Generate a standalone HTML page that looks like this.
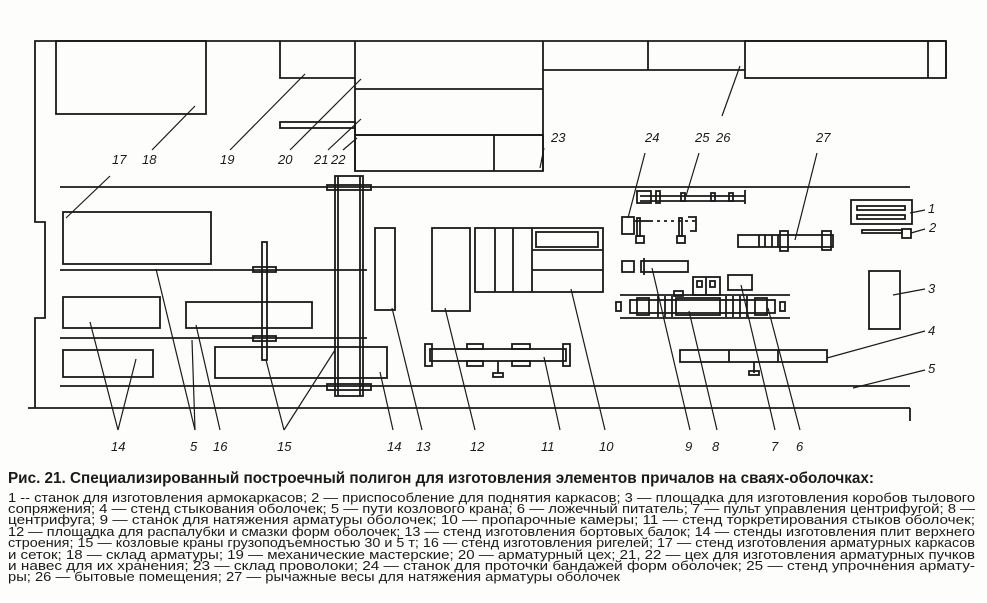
<!DOCTYPE html>
<html><head><meta charset="utf-8"><style>
html,body{margin:0;padding:0;background:#fff;}
svg{display:block}
text{font-family:"Liberation Sans","DejaVu Sans",sans-serif;fill:#1a1a1a}
.n{font-style:italic;font-size:13px}
.c{font-size:12.5px}
</style></head><body>
<svg width="987" height="603" viewBox="0 0 987 603" xmlns="http://www.w3.org/2000/svg">
<rect width="987" height="603" fill="#fdfdfb"/>
<g stroke="#1a1a1a" fill="none" stroke-width="1.8">
<polyline points="946,41 35,41 35,222 45,222 45,318 35,318 35,408"/>
<line x1="28" y1="408" x2="910" y2="408"/>
<line x1="910" y1="408" x2="910" y2="421"/>
<line x1="946" y1="41" x2="946" y2="78"/>
<rect x="56" y="41" width="150" height="73"/>
<polyline points="280,41 280,78 355,78"/>
<line x1="355" y1="41" x2="355" y2="171"/>
<line x1="355" y1="89" x2="543" y2="89"/>
<rect x="280" y="122" width="75" height="6"/>
<polyline points="355,128 355,135 543,135"/>
<rect x="355" y="135" width="188" height="36"/>
<line x1="494" y1="135" x2="494" y2="171"/>
<line x1="543" y1="41" x2="543" y2="171"/>
<line x1="543" y1="70" x2="745" y2="70"/>
<line x1="648" y1="41" x2="648" y2="70"/>
<rect x="745" y="41" width="201" height="37"/>
<line x1="928" y1="41" x2="928" y2="78"/>
<line x1="60" y1="187" x2="910" y2="187"/>
<line x1="60" y1="270" x2="367" y2="270"/>
<line x1="60" y1="338" x2="367" y2="338"/>
<line x1="60" y1="386" x2="910" y2="386"/>
<rect x="335" y="176" width="28" height="220"/>
<line x1="338" y1="176" x2="338" y2="396"/>
<line x1="360" y1="176" x2="360" y2="396"/>
<rect x="327" y="185" width="44" height="5"/>
<rect x="327" y="384" width="44" height="6"/>
<rect x="262" y="242" width="5" height="118"/>
<rect x="253" y="267" width="23" height="5"/>
<rect x="253" y="336" width="23" height="5"/>
<rect x="63" y="212" width="148" height="52"/>
<rect x="63" y="297" width="97" height="31"/>
<rect x="186" y="302" width="126" height="26"/>
<rect x="63" y="350" width="90" height="27"/>
<rect x="215" y="347" width="172" height="31"/>
<rect x="375" y="228" width="20" height="82"/>
<rect x="432" y="228" width="38" height="83"/>
<rect x="475" y="228" width="128" height="64"/>
<line x1="495" y1="228" x2="495" y2="292"/>
<line x1="513" y1="228" x2="513" y2="292"/>
<line x1="532" y1="228" x2="532" y2="292"/>
<rect x="536" y="232" width="62" height="15"/>
<line x1="532" y1="250" x2="603" y2="250"/>
<line x1="532" y1="270" x2="603" y2="270"/>
<rect x="430" y="349" width="136" height="12"/>
<rect x="425" y="344" width="7" height="22"/>
<rect x="563" y="344" width="7" height="22"/>
<rect x="467" y="344" width="16" height="5"/><rect x="467" y="361" width="16" height="5"/>
<rect x="512" y="344" width="18" height="5"/><rect x="512" y="361" width="18" height="5"/>
<line x1="498" y1="361" x2="498" y2="373"/><rect x="493" y="373" width="10" height="4"/>
<line x1="640" y1="196" x2="745" y2="196"/><line x1="640" y1="201" x2="745" y2="201"/>
<rect x="637" y="191" width="14" height="12"/><rect x="656" y="191" width="4" height="12"/>
<line x1="745" y1="190" x2="745" y2="204"/>
<rect x="681" y="193" width="4" height="8"/><rect x="711" y="193" width="4" height="8"/><rect x="729" y="193" width="4" height="8"/>
<rect x="622" y="217" width="12" height="17"/>
<line x1="634" y1="221" x2="650" y2="221"/>
<line x1="650" y1="221" x2="698" y2="221" stroke-dasharray="3,4"/>
<rect x="637" y="218" width="3" height="18"/><rect x="679" y="218" width="3" height="18"/>
<rect x="636" y="236" width="8" height="7"/><rect x="677" y="236" width="8" height="7"/>
<polyline points="688,217 696,217 696,231 690,231"/>
<rect x="622" y="261" width="12" height="11"/>
<rect x="641" y="261" width="47" height="11"/>
<line x1="644" y1="258" x2="644" y2="275"/>
<line x1="620" y1="295" x2="790" y2="295"/>
<line x1="620" y1="318" x2="790" y2="318"/>
<rect x="630" y="300" width="145" height="13"/>
<rect x="616" y="302" width="5" height="9"/><rect x="780" y="302" width="5" height="9"/>
<rect x="637" y="298" width="12" height="17"/><rect x="755" y="298" width="12" height="17"/>
<line x1="658" y1="296" x2="658" y2="317"/><line x1="665" y1="296" x2="665" y2="317"/><line x1="672" y1="296" x2="672" y2="317"/>
<line x1="726" y1="296" x2="726" y2="317"/><line x1="733" y1="296" x2="733" y2="317"/><line x1="740" y1="296" x2="740" y2="317"/><line x1="747" y1="296" x2="747" y2="317"/>
<rect x="676" y="298" width="44" height="17"/>
<rect x="674" y="291" width="9" height="5"/>
<rect x="693" y="277" width="27" height="18"/><line x1="706" y1="277" x2="706" y2="295"/>
<rect x="697" y="281" width="5" height="6"/><rect x="710" y="281" width="5" height="6"/>
<rect x="728" y="275" width="24" height="15"/>
<rect x="738" y="235" width="95" height="12"/>
<rect x="780" y="231" width="8" height="20"/><rect x="822" y="231" width="9" height="19"/>
<line x1="759" y1="235" x2="759" y2="247"/><line x1="765" y1="235" x2="765" y2="247"/><line x1="772" y1="235" x2="772" y2="247"/><line x1="778" y1="235" x2="778" y2="247"/>
<rect x="851" y="200" width="61" height="24"/>
<rect x="857" y="206" width="48" height="4"/><rect x="857" y="215" width="48" height="4"/>
<rect x="862" y="230" width="40" height="3"/>
<rect x="902" y="229" width="9" height="9"/>
<rect x="869" y="271" width="31" height="58"/>
<rect x="680" y="350" width="147" height="12"/>
<line x1="729" y1="350" x2="729" y2="362"/><line x1="778" y1="350" x2="778" y2="362"/>
<line x1="754" y1="362" x2="754" y2="373"/><rect x="749" y="371" width="10" height="4"/>
</g>
<g stroke="#1a1a1a" stroke-width="1.2" fill="none">
<line x1="152" y1="150" x2="195" y2="106"/>
<line x1="230" y1="150" x2="305" y2="74"/>
<line x1="290" y1="150" x2="361" y2="79"/>
<line x1="328" y1="150" x2="361" y2="119"/>
<line x1="343" y1="150" x2="357" y2="138"/>
<line x1="110" y1="176" x2="66" y2="218"/>
<line x1="544" y1="148" x2="540" y2="168"/>
<line x1="645" y1="153" x2="628" y2="218"/>
<line x1="699" y1="153" x2="686" y2="196"/>
<line x1="722" y1="116" x2="740" y2="66"/>
<line x1="817" y1="153" x2="795" y2="240"/>
<line x1="925" y1="210" x2="910" y2="213"/>
<line x1="925" y1="229" x2="911" y2="233"/>
<line x1="925" y1="289" x2="893" y2="295"/>
<line x1="925" y1="331" x2="827" y2="358"/>
<line x1="925" y1="370" x2="853" y2="388"/>
<line x1="118" y1="430" x2="90" y2="322"/>
<line x1="118" y1="430" x2="136" y2="359"/>
<line x1="195" y1="430" x2="156" y2="269"/>
<line x1="195" y1="430" x2="192" y2="340"/>
<line x1="220" y1="430" x2="196" y2="325"/>
<line x1="284" y1="430" x2="266" y2="360"/>
<line x1="284" y1="430" x2="335" y2="350"/>
<line x1="393" y1="430" x2="380" y2="372"/>
<line x1="422" y1="430" x2="392" y2="308"/>
<line x1="475" y1="430" x2="445" y2="308"/>
<line x1="560" y1="430" x2="544" y2="357"/>
<line x1="605" y1="430" x2="571" y2="289"/>
<line x1="690" y1="430" x2="652" y2="268"/>
<line x1="717" y1="430" x2="689" y2="311"/>
<line x1="775" y1="430" x2="741" y2="285"/>
<line x1="800" y1="430" x2="768" y2="308"/>
</g>
<g class="n">
<text x="112" y="164">17</text><text x="142" y="164">18</text><text x="220" y="164">19</text>
<text x="278" y="164">20</text><text x="314" y="164">21</text><text x="331" y="164">22</text>
<text x="551" y="142">23</text><text x="645" y="142">24</text><text x="695" y="142">25</text><text x="716" y="142">26</text>
<text x="816" y="142">27</text>
<text x="928" y="213">1</text><text x="929" y="232">2</text><text x="928" y="293">3</text><text x="928" y="335">4</text><text x="928" y="373">5</text>
<text x="111" y="451">14</text><text x="190" y="451">5</text><text x="213" y="451">16</text><text x="277" y="451">15</text>
<text x="387" y="451">14</text><text x="416" y="451">13</text><text x="470" y="451">12</text><text x="541" y="451">11</text>
<text x="599" y="451">10</text><text x="685" y="451">9</text><text x="712" y="451">8</text><text x="771" y="451">7</text><text x="796" y="451">6</text>
</g>
<text x="8" y="483" font-size="16" font-weight="bold" textLength="866" lengthAdjust="spacingAndGlyphs">Рис. 21. Специализированный построечный полигон для изготовления элементов причалов на сваях-оболочках:</text>
<g class="c">
<text x="8" y="502" textLength="967" lengthAdjust="spacingAndGlyphs">1 -- станок для изготовления армокаркасов; 2 — приспособление для поднятия каркасов; 3 — площадка для изготовления коробов тылового</text>
<text x="8" y="513" textLength="967" lengthAdjust="spacingAndGlyphs">сопряжения; 4 — стенд стыкования оболочек; 5 — пути козлового крана; 6 — ложечный питатель; 7 — пульт управления центрифугой; 8 —</text>
<text x="8" y="524" textLength="967" lengthAdjust="spacingAndGlyphs">центрифуга; 9 — станок для натяжения арматуры оболочек; 10 — пропарочные камеры; 11 — стенд торкретирования стыков оболочек;</text>
<text x="8" y="536" textLength="967" lengthAdjust="spacingAndGlyphs">12 — площадка для распалубки и смазки форм оболочек; 13 — стенд изготовления бортовых балок; 14 — стенды изготовления плит верхнего</text>
<text x="8" y="547" textLength="967" lengthAdjust="spacingAndGlyphs">строения; 15 — козловые краны грузоподъемностью 30 и 5 т; 16 — стенд изготовления ригелей; 17 — стенд изготовления арматурных каркасов</text>
<text x="8" y="559" textLength="967" lengthAdjust="spacingAndGlyphs">и сеток; 18 — склад арматуры; 19 — механические мастерские; 20 — арматурный цех; 21, 22 — цех для изготовления арматурных пучков</text>
<text x="8" y="570" textLength="967" lengthAdjust="spacingAndGlyphs">и навес для их хранения; 23 — склад проволоки; 24 — станок для проточки бандажей форм оболочек; 25 — стенд упрочнения армату-</text>
<text x="8" y="581" textLength="612" lengthAdjust="spacingAndGlyphs">ры; 26 — бытовые помещения; 27 — рычажные весы для натяжения арматуры оболочек</text>
</g>
</svg>
</body></html>
